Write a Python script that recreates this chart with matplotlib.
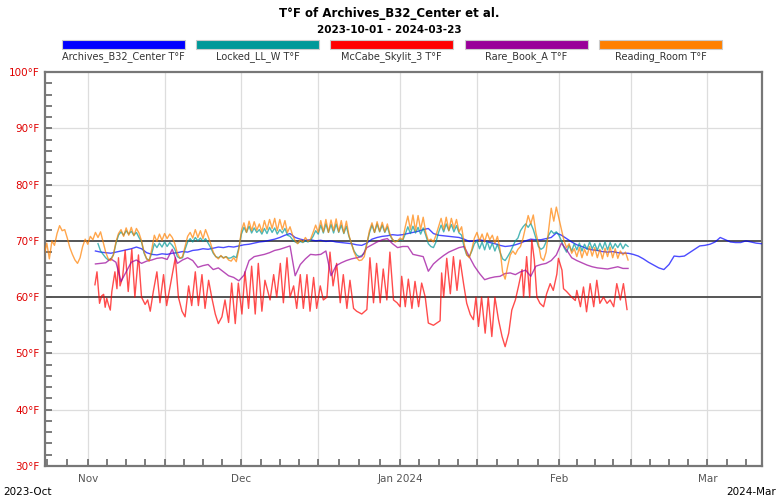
import numpy as np
import pandas as pd
import matplotlib
matplotlib.use("Agg")
import matplotlib.pyplot as plt
from matplotlib.patches import Rectangle

plt.rcParams['font.family'] = ['Liberation Sans Narrow', 'DejaVu Sans']

# day offsets are counted from this date
base = pd.Timestamp("2023-11-01")

series_names = ["Archives_B32_Center T°F", "Locked_LL_W T°F", "McCabe_Skylit_3 T°F",
                "Rare_Book_A T°F", "Reading_Room T°F"]
series_colors = ["#0000ff", "#009999", "#ff0000", "#990099", "#ff8000"]

# Archives_B32_Center, daily, from day 1.5
blue_start = 1.5
blue_temp = [68.2, 68.0, 67.9, 67.8, 68.0, 68.2, 68.4, 68.6, 68.9, 68.6,
             67.9, 67.6, 67.5, 67.7, 67.6, 67.8, 67.9, 68.1, 68.0, 68.3,
             68.4, 68.6, 68.5, 68.7, 68.9, 68.8, 69.0, 68.9, 69.1, 69.3,
             69.4, 69.6, 69.8, 69.9, 70.1, 70.3, 70.6, 71.0, 71.3, 70.6,
             70.3, 70.1, 70.2, 70.0, 70.1, 69.9, 70.0, 69.8, 69.7, 69.6,
             69.5, 69.3, 69.2, 69.6, 70.3, 70.6, 70.8, 70.9, 71.1, 71.0,
             71.1, 71.3, 71.5, 71.7, 72.0, 72.2, 71.3, 71.0, 70.9, 70.8,
             70.7, 70.6, 70.3, 69.9, 70.0, 70.2, 70.0, 69.7, 69.5, 69.2,
             69.0, 69.1, 69.3, 69.6, 70.0, 70.3, 70.2, 70.2, 70.4, 70.6,
             71.4, 71.0, 70.4, 69.8, 69.3, 69.0, 68.6, 68.4, 68.3, 68.1,
             68.0, 68.1, 67.9, 67.8, 67.8, 67.6, 67.3, 66.8, 66.2, 65.7,
             65.2, 64.9, 65.8, 67.3, 67.2, 67.3, 67.9, 68.5, 69.1, 69.2,
             69.4, 69.8, 70.6, 70.2, 69.8, 69.7, 69.7, 70.0, 69.8, 69.6,
             69.5]

# Locked_LL_W, every half day, from day 2.0
teal_start = 2.0
teal_temp = [69.5, 68.2, 67.6, 67.0, 66.6, 66.8, 67.5, 69.5, 71.0,
             71.6, 71.0, 71.8, 71.2, 71.7, 71.0, 71.5,
             70.6, 69.8, 67.8, 66.8, 66.6, 67.8,
             69.5, 68.8, 69.6, 68.9, 69.8, 69.0, 69.7, 69.2,
             68.5, 67.2, 66.9, 67.0, 68.5, 69.8,
             70.4, 69.8, 70.6, 70.0, 70.5, 69.9, 70.4, 69.6, 68.8,
             67.8, 67.2, 67.0, 67.3, 67.0, 67.2, 66.9, 67.0, 67.3, 67.0, 68.8,
             71.2, 72.4, 71.5, 72.6, 71.4, 72.3, 71.5, 72.0,
             71.2, 72.2, 71.3, 72.4, 71.5, 72.3, 71.2, 72.0, 71.4, 72.2, 71.0,
             70.8, 70.2, 69.8, 69.6, 69.9, 69.7, 70.0, 69.8, 70.1, 70.8, 71.8,
             71.2, 72.8, 71.4, 73.0, 71.5, 72.9, 71.4, 73.0, 71.5, 72.8, 71.3, 72.6, 70.8,
             69.5, 68.2, 67.5, 67.2, 67.4, 67.8, 69.5,
             71.4, 72.8, 71.5, 73.0, 71.6, 72.8, 71.5, 72.5, 71.0,
             70.2, 69.9, 70.0, 70.2, 70.1,
             71.2, 72.5, 71.3, 72.6, 71.4, 72.4, 71.2, 72.3, 71.0,
             69.5, 69.0, 68.8, 69.8,
             71.5, 72.8, 71.6, 73.0, 71.8, 72.9, 71.6, 72.7, 71.4, 71.0,
             68.8, 67.5, 67.2, 68.2,
             69.5, 70.0, 68.6, 69.8, 68.4, 69.9, 68.5, 69.6, 68.2, 69.4, 68.0,
             66.8, 66.5, 67.2, 68.0,
             69.0, 70.0, 70.5, 71.8, 72.5,
             73.0, 72.4, 73.1, 72.0, 70.5,
             69.0, 68.5, 68.8, 69.8,
             71.0, 71.8, 71.3, 71.6, 71.0, 70.0,
             68.8, 68.0, 69.2, 68.2, 69.5, 68.4, 69.6, 68.2, 69.4, 68.5, 69.8, 68.6, 69.5,
             68.3, 69.6, 68.5, 69.8, 68.4, 69.7, 68.6, 69.5, 68.8, 69.6, 68.6, 69.4, 69.0]

# McCabe_Skylit_3, irregular readings (day, temp)
red_day = [1.4, 1.8, 2.3, 2.7, 3.1, 3.4, 3.7, 4.1, 4.4, 4.7, 5.3, 5.7, 6.0, 6.3, 6.8,
           7.3, 7.9, 8.6, 9.2, 9.9, 10.5, 11.2, 11.7, 12.2, 12.8, 13.5, 14.1, 14.8,
           15.4, 16.4, 17.1, 17.7, 18.4, 19.0, 19.7, 20.3, 21.0, 21.6, 22.3, 22.9,
           23.6, 24.2, 24.9, 25.5, 26.2, 26.8, 27.5, 28.1, 28.8, 29.4, 30.1, 30.7,
           31.4, 32.0, 32.7, 33.3, 34.0, 34.6, 35.6, 36.3, 36.9, 37.6, 38.2, 38.9,
           39.5, 40.2, 40.8, 41.5, 42.1, 42.8, 43.4, 44.1, 44.7, 45.4, 46.0, 46.7,
           47.3, 47.9, 48.6, 49.3, 49.9, 50.6, 51.2, 51.9, 52.5, 53.5, 54.5, 55.1,
           55.8, 56.4, 57.1, 57.7, 58.4, 59.0, 59.7, 60.4, 61.0, 61.3, 62.0, 62.6,
           63.3, 63.9, 64.6, 65.2, 65.9, 66.5, 67.5, 68.8, 69.1, 69.5, 70.1, 70.8,
           71.4, 72.1, 72.7, 73.4, 74.0, 74.7, 75.3, 75.8, 76.3, 76.9, 77.6, 78.2,
           78.9, 79.5, 80.2, 80.9, 81.5, 82.2, 82.8, 83.5, 84.1, 84.8, 85.1, 85.7,
           86.3, 86.7, 87.2, 87.7, 88.3, 89.0, 89.6, 90.3, 90.9, 91.6, 91.9, 92.6,
           92.9, 93.5, 94.5, 95.2, 95.5, 96.2, 96.8, 97.4, 98.1, 98.8, 99.4, 100.0,
           100.7, 101.4, 102.0, 102.7, 103.3, 104.0, 104.6, 105.3]
red_temp = [62.2, 64.5, 58.9, 60.2, 60.5, 58.2, 59.8, 58.5, 57.7, 61.0, 64.5, 61.5, 67.0, 62.0, 63.5,
            68.3, 61.0, 68.5, 60.0, 67.5, 60.0, 58.7, 59.5, 57.5, 61.0, 64.5, 59.0, 64.0,
            58.5, 63.5, 67.0, 60.0, 57.5, 56.5, 62.0, 58.5, 64.5, 58.5, 64.0, 58.0,
            63.0, 60.0, 57.0, 55.3, 56.5, 59.5, 55.5, 62.5, 55.3, 62.5, 57.0, 64.5,
            58.0, 65.5, 57.0, 66.0, 57.5, 63.0, 59.5, 64.0, 60.0, 66.0, 59.0, 67.0,
            60.0, 62.0, 58.0, 64.0, 58.0, 64.0, 57.5, 63.5, 58.0, 62.0, 59.5, 60.0,
            68.0, 62.0, 66.0, 59.0, 64.0, 58.0, 63.0, 58.0, 57.5, 57.0, 57.8, 67.0,
            59.0, 66.0, 59.0, 65.0, 59.5, 68.0, 59.5, 59.0, 58.3, 63.7, 58.3, 63.2,
            58.0, 62.8, 58.3, 62.5, 60.0, 55.4, 55.0, 55.8, 64.3, 60.0, 66.9, 60.6,
            67.2, 61.2, 66.6, 62.3, 58.9, 56.9, 56.0, 60.0, 54.8, 60.0, 53.6, 60.0,
            53.0, 60.0, 56.0, 53.0, 51.2, 53.6, 57.7, 59.5, 61.9, 64.9, 60.0, 67.2,
            60.0, 70.2, 66.6, 60.0, 58.9, 58.3, 60.6, 62.4, 61.2, 64.1, 66.9, 64.8,
            61.5, 61.0, 60.0, 59.4, 61.2, 58.3, 61.8, 57.4, 62.4, 58.3, 63.0, 58.9,
            60.0, 58.9, 59.5, 58.3, 62.4, 59.5, 62.4, 57.8]

# Rare_Book_A, daily, from day 1.5
purple_start = 1.5
purple_temp = [65.9, 66.0, 66.1, 66.8, 66.2, 62.8, 64.5, 66.2, 66.6, 66.0,
               66.4, 66.6, 66.9, 67.0, 66.7, 68.5, 66.0, 66.6, 67.0, 66.5,
               65.3, 65.6, 65.8, 64.9, 65.2, 64.5, 63.8, 63.5, 62.9, 63.9,
               66.5, 67.2, 67.4, 67.6, 67.9, 68.3, 68.5, 68.8, 69.1, 63.8,
               65.8, 66.8, 67.6, 67.5, 67.6, 68.2, 63.8, 65.6, 66.1, 66.5,
               66.8, 67.0, 67.2, 68.8, 69.3, 69.8, 70.2, 70.4, 69.5, 68.8,
               69.0, 69.0, 67.6, 67.4, 67.2, 64.6, 65.9, 66.7, 67.4, 68.0,
               68.4, 68.8, 69.0, 67.2, 65.5, 64.2, 63.1, 63.4, 63.6, 63.7,
               64.2, 64.3, 64.0, 64.5, 64.8, 63.7, 65.5, 65.8, 66.0, 66.5,
               67.5, 69.6, 68.4, 67.0, 66.5, 66.1, 65.7, 65.4, 65.2, 65.1,
               65.0, 65.2, 65.4, 65.1, 65.1]

# Reading_Room, every half day, from day -8.5
orange_start = -8.5
orange_temp = [67.5, 69.6, 66.8, 70.0, 69.2, 71.3, 72.7, 71.8, 72.0, 70.5, 68.8,
               67.6, 66.6, 66.0, 67.0, 69.0, 70.3, 69.4, 70.8, 70.2, 71.5,
               70.6, 71.6, 69.8, 68.0, 66.8, 66.5, 67.5, 69.8, 71.3,
               72.0, 70.8, 72.3, 71.0, 72.4, 70.9, 72.2,
               71.4, 70.0, 68.0, 66.8, 66.4, 68.5,
               71.0, 69.9, 71.2, 70.1, 71.3, 70.4, 71.2, 70.6,
               69.5, 67.8, 66.9, 67.2, 69.0, 70.8,
               71.5, 70.5, 72.0, 70.6, 71.8, 70.4, 72.0, 70.8, 69.5,
               68.0, 67.2, 66.8, 67.4, 66.9, 67.2, 66.6, 66.4, 67.0, 66.3, 68.5,
               71.8, 73.2, 71.5, 73.5, 71.8, 73.4, 71.9, 73.0,
               71.6, 73.6, 72.0, 73.8, 72.2, 74.0, 71.8, 73.8, 72.0, 73.6, 71.5,
               72.5, 71.0, 70.0, 69.5, 70.2, 69.8, 70.6, 69.9, 70.3, 71.5, 72.8,
               71.5, 73.6, 71.6, 73.8, 71.5, 73.7, 71.8, 73.9, 71.6, 73.6, 71.4, 73.5, 71.0,
               69.5, 68.0, 67.0, 66.5, 66.6, 67.2, 69.5,
               71.8, 73.2, 71.5, 73.4, 71.7, 73.3, 71.6, 73.0, 71.2,
               70.3, 69.8, 70.0, 70.5, 70.2,
               72.5, 74.4, 72.0, 74.6, 71.8, 74.5, 72.0, 74.2, 71.5,
               70.0, 70.3, 69.8, 71.0,
               72.5, 74.0, 72.0, 74.2, 71.8, 74.0, 72.2, 73.8, 71.6, 72.5,
               69.5, 67.5, 67.0, 68.5,
               70.5, 71.5, 70.0, 71.2, 69.8, 71.4, 70.2, 71.0, 69.6, 70.8, 68.5,
               64.5, 63.2, 65.5, 67.5,
               68.2, 67.6, 68.5, 69.0, 70.5,
               72.5, 74.5, 73.0, 74.6, 71.5,
               69.5, 67.0, 66.5, 68.0,
               72.0, 75.8, 73.5, 76.0, 74.0, 72.0,
               70.0, 68.8, 69.5, 67.8, 68.6, 67.2, 68.8, 67.0, 68.5, 67.4, 69.0, 67.3, 68.8,
               67.0, 68.5, 66.8, 68.7, 67.2, 68.9, 67.0, 68.6, 66.9, 68.2, 67.5, 68.0, 66.6]


def regular_dates(start, step, n):
    return base + pd.to_timedelta(start + step * np.arange(n), unit="D")


fig = plt.figure(figsize=(7.79, 5.0), dpi=100)
ax = fig.add_axes([45 / 779, 34 / 500, 716.7 / 779, 394 / 500])

lines = [
    (regular_dates(blue_start, 1.0, len(blue_temp)), blue_temp),
    (regular_dates(teal_start, 0.5, len(teal_temp)), teal_temp),
    (base + pd.to_timedelta(red_day, unit="D"), red_temp),
    (regular_dates(purple_start, 1.0, len(purple_temp)), purple_temp),
    (regular_dates(orange_start, 0.5, len(orange_temp)), orange_temp),
]
for (x, y), c in zip(lines, series_colors):
    ax.plot(x, y, color=c, lw=1.0, alpha=0.7, zorder=3)

# grid: light lines every 10 F, dark reference lines at 60 and 70
for t in [40, 50, 80, 90]:
    ax.axhline(t, color="#dddddd", lw=0.9, zorder=1)
for t in [60, 70]:
    ax.axhline(t, color="#555555", lw=1.4, zorder=2)

half_months = pd.to_datetime(["2023-10-16", "2023-11-01", "2023-11-16", "2023-12-01", "2023-12-16",
                              "2024-01-01", "2024-01-16", "2024-02-01", "2024-02-15",
                              "2024-03-01", "2024-03-16"])
for d in half_months[1:-1]:
    ax.axvline(d, color="#dddddd", lw=0.9, zorder=1)

minor = []
for a, b in zip(half_months[:-1], half_months[1:]):
    for k in range(4):
        minor.append(a + (b - a) * k / 4)
ax.set_xticks(minor, minor=True)
ax.set_xticks(pd.to_datetime(["2023-11-01", "2023-12-01", "2024-01-01", "2024-02-01", "2024-03-01"]))
ax.set_xticklabels(["Nov", "Dec", "Jan 2024", "Feb", "Mar"], fontsize=7.5, color="#555555")

ax.set_yticks(range(30, 101, 10))
ax.set_yticklabels([f"{t}°F" for t in range(30, 101, 10)], fontsize=7.5, color="#e00000")
ax.set_yticks(range(30, 101, 2), minor=True)

# limits last, set_xticks would widen them otherwise
ax.set_ylim(30, 100)
ax.set_xlim(base + pd.Timedelta(days=-8.35), base + pd.Timedelta(days=131.6))

ax.tick_params(axis="both", which="both", direction="in", length=5, width=1.2, color="#666666")
ax.tick_params(axis="x", which="major", pad=6)
ax.tick_params(axis="y", which="major", pad=4)
for s in ax.spines.values():
    s.set_color("#777777")
    s.set_linewidth(1.6)

fig.text(0.5, 1 - 14 / 500, "T°F of Archives_B32_Center et al.", ha="center", va="center",
         fontsize=8.5, fontweight="bold")
fig.text(0.5, 1 - 30 / 500, "2023-10-01 - 2024-03-23", ha="center", va="center",
         fontsize=7.5, fontweight="bold")

# legend swatches
legend_left = [62, 196, 330, 465, 599]
for xl, name, c in zip(legend_left, series_names, series_colors):
    fig.patches.append(Rectangle((xl / 779, 1 - 49 / 500), 123 / 779, 9 / 500,
                                 transform=fig.transFigure, facecolor=c,
                                 edgecolor="#cccccc", lw=0.8))
    fig.text((xl + 61.5) / 779, 1 - 57 / 500, name, ha="center", va="center",
             fontsize=7, color="#333333")

fig.text(3 / 779, 1 - 492 / 500, "2023-Oct", ha="left", va="center", fontsize=7.5)
fig.text(776 / 779, 1 - 492 / 500, "2024-Mar", ha="right", va="center", fontsize=7.5)

fig.savefig("out.png", dpi=100)
